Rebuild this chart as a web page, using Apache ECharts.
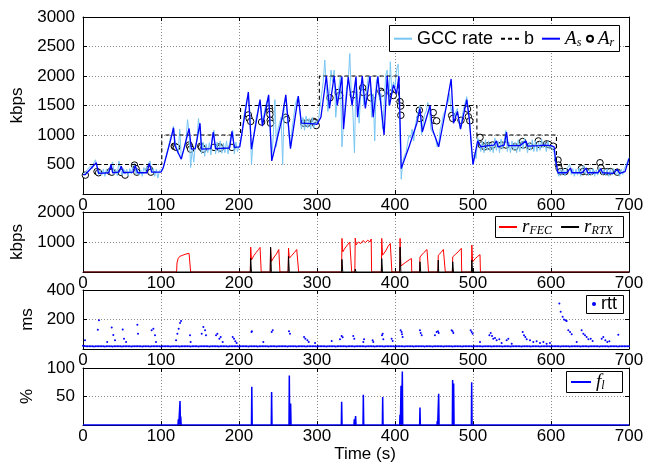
<!DOCTYPE html>
<html><head><meta charset="utf-8">
<script src="https://cdn.jsdelivr.net/npm/echarts@6/dist/echarts.min.js"></script>
<style>html,body{margin:0;padding:0;background:#fff}#c{width:652px;height:464px}</style>
</head><body><div id="c"></div>
<script>
// ---------- data ----------
const xTicks = [0,100,200,300,400,500,600,700];
const gccStep = 2; // seconds between GCC samples
const gccVals = [
330,300,380,420,450, 480,430,540,580,430, 330,400,320,420,300, 420,350,440,470,540,
330,420,310,560,440, 320,430,340,420,310, 430,340,480,520,330, 420,320,410,300,450,
380,470,520,560,360, 430,300,420,270,400,
380,420,500,620,720, 830,950,1000,1150,900, 780,680,1100,620,700, 780,900,1260,1050,450,
760,540,820,900,1280, 1050,680,880,640,850, 700,870,660,980,1080, 680,880,700,900,690,
860,700,900,680,870, 1000,1080,680,880,720,
800,900,1050,1300,1450, 1600,1650,1400,500,900, 1100,1300,1400,1550,1500, 1200,1350,1500,1580,1650,
1100,600,1000,1600,800, 1100,1200,1300,500,1550, 1600,1350,1000,800,1100, 1300,1500,1600,1650,1400,
1100,1300,1080,1320,1120, 1280,1100,1300,1120,1250,
1200,1250,1500,1700,1900, 2270,1800,1400,1700,2100, 1900,2100,1300,1600,1800, 2000,800,1200,1500,1800,
1900,2380,1700,1400,700, 1950,1600,1200,1700,1900, 1500,1600,1800,2000,1950, 1300,1700,900,1900,2000,
1600,1700,1100,1500,2000, 2100,1500,2240,1700,1900,
1800,2100,2200,1200,250, 550,650,700,850,1000, 950,1100,900,1150,1300, 1400,1500,1000,1200,1350,
1400,1550,1450,1100,1050, 1000,950,800,850,1100, 1200,1350,1400,1500,1550, 1700,1400,1500,1300,1400,
1450,1200,1100,1300,1450, 1550,1650,1400,1200,750,
500,700,600,950,880, 720,900,700,920,740, 900,720,860,700,950, 740,900,700,930,760,
900,1080,720,880,700, 900,740,880,700,920, 720,900,760,950,820, 700,880,740,920,720,
900,720,880,740,930, 780,880,720,900,760,
820,760,700,540,380, 300,420,320,430,310, 420,460,500,330,430, 300,420,320,440,300,
430,480,330,420,310, 420,320,430,300,410, 320,450,480,330,420, 310,430,300,420,320,
430,460,320,410,300, 420,330,430,480,560,
620
];
const bTimes = [0,101,202,303,405,505,607,700];
const bVals  = [500,1000,1500,2000,1500,1000,500,500];
const asPts = [
[0,330],[3,330],[17,530],[20,350],[33,360],[36,500],[38,360],[46,370],[49,470],[52,360],[64,370],[67,480],[70,360],[82,360],[85,520],[88,370],[100,370],
[103,450],[112,900],[116,1120],[118,820],[122,700],[126,590],[130,800],[136,1110],[139,760],[144,770],[150,1200],[152,760],[164,770],[167,1050],[170,770],[188,780],[191,1060],[194,790],[201,800],
[212,1730],[216,760],[227,1600],[230,1150],[238,1680],[242,560],[255,1270],[260,1680],[266,770],[276,1660],[280,1200],[297,1190],[300,1180],
[305,1300],[312,2000],[316,1450],[322,2000],[326,1500],[332,1990],[334,1100],[340,1980],[345,1500],[350,1990],[352,1300],[358,2000],[362,1450],[368,2000],[372,1300],[378,1990],[382,1500],[386,1000],[390,2000],[393,1500],[398,1850],[402,1700],[405,2000],
[408,430],[418,800],[428,1200],[432,1450],[435,1050],[445,1500],[448,1100],[456,800],[466,1500],[472,1950],[475,1200],[480,1400],[484,1100],[492,1600],[495,1300],[500,500],[506,900],
[510,800],[515,810],[520,820],[527,830],[530,900],[532,800],[540,830],[543,1050],[545,820],[560,820],[568,900],[570,810],[585,820],[590,830],[600,820],[604,800],[606,560],[609,360],
[620,360],[625,440],[627,360],[640,360],[645,440],[647,360],[660,360],[664,430],[666,360],[680,350],[685,420],[688,350],[695,380],[700,600]
];
const arPts = [
[3,320],[18,380],[20,360],[35,380],[37,370],[49,365],[54,320],[66,490],[68,430],[69,370],[85,420],[87,370],
[117,810],[118,800],[120,790],[136,830],[137,800],[138,760],[151,810],[152,790],[154,760],[168,790],[175,800],[176,780],[191,790],
[212,1340],[213,1280],[215,1230],[229,1220],[239,1450],[239.5,1400],[239.7,1350],[240,1250],[240.5,1200],[260,1300],[261,1260],[283,1200],[288,1200],[296,1230],[297,1210],[299,1160],
[316.6,1630],[327,1720],[329,1670],[346.5,1680],[358.5,1800],[359.5,1720],[368.8,1630],[382,1740],[383,1710],[394.8,1710],[397.8,1670],
[406.4,1565],[407.2,1490],[407.5,1335],[431.2,1420],[432,1280],[449,1380],[450,1250],[453.4,1240],[472.6,1330],[474,1280],[484.6,1250],[493,1440],[494,1310],[496,1240],
[509,960],[510.7,830],[515,800],[519.6,820],[522,810],[525,830],[536.7,830],[542.3,830],[553.8,800],[563.6,890],[564.5,830],[573,810],[583.8,900],[585,840],[594.4,850],[597,840],[603,810],
[609,575],[609.5,490],[610.5,430],[612.4,380],[618,380],[639,430],[641,380],[645.8,380],[650.9,380],[662.8,530],[664,440],[667,380],[672,380],[676,380],[685,370]
];
const fecPts = [
[0,0],[120,0],[120.5,300],[122,450],[124,520],[126,480],[128,560],[130,540],[132,600],[134,580],[136,620],[137.5,560],[138,0],
[214.5,0],[215,830],[216,400],[219,550],[222,650],[225,750],[227,820],[228,850],[228.5,0],
[240,0],[240.5,800],[241.5,350],[245,500],[248,600],[251,750],[252,790],[252.5,0],
[263,0],[263.5,800],[264.5,460],[268,560],[271,650],[274,750],[276,790],[276.5,0],
[331.5,0],[332,1120],[333,670],[336,800],[339,900],[342,1000],[344,1050],[344.5,0],
[348.5,0],[349,1130],[350,900],[353,1000],[356,950],[359,1050],[362,980],[365,1060],[368,1000],[369.5,1100],[370,0],
[382.5,0],[383,1120],[384,560],[388,700],[391,850],[394,950],[395.7,1000],[396,0],
[406,0],[406.5,1120],[407.5,200],[410,250],[414,330],[418,400],[421,450],[421.5,0],
[431.5,0],[432,500],[433,560],[437,650],[441,750],[442.7,790],[443,0],
[455,0],[455.5,560],[459,650],[462,750],[464,790],[464.5,0],
[473.5,0],[474,506],[478,600],[482,700],[485,790],[485.5,0],
[498,0],[498.5,900],[499.5,340],[503,450],[506,520],[509,580],[509.5,0],[700,0]
];
const rtxPts = [
[0,0],[214.5,0],[215,460],[216,0],[240,0],[240.5,830],[241.5,0],[263,0],[263.5,520],[264.5,0],
[331.5,0],[332,420],[333,0],[348.5,0],[349,100],[350,0],[382.5,0],[383,450],[384,0],[406,0],[406.5,830],[407.5,0],
[431.5,0],[432,340],[433,0],[455,0],[455.5,400],[456,0],[473.5,0],[474,340],[475,0],[498,0],[498.5,400],[499.5,0],[700,0]
];
const rttStep = 2; // seconds between baseline RTT samples
const rttBase = [
22,20,19,18,18,19,18,17,18,18, 18,19,18,18,17,18,19,18,18,17, 18,18,19,18,18,17,18,18,19,18,
18,17,18,18,19,18,18,18,17,18, 19,18,18,17,18,18,19,18,18,18, 17,18,18,19,18,18,17,18,18,19,
18,18,17,18,18,19,18,18,18,17, 18,19,18,18,17,18,18,19,18,18, 18,17,18,19,18,18,18,17,18,18,
19,18,18,17,18,18,19,18,18,18, 17,18,18,19,18,18,17,18,18,19, 18,18,17,18,18,19,18,18,18,17,
18,19,18,18,17,18,18,19,18,18, 18,17,18,19,18,18,18,17,18,18, 19,18,18,17,18,18,19,18,18,18,
17,18,18,19,18,18,17,18,18,19, 18,18,17,18,18,19,18,18,18,17, 18,19,18,18,17,18,18,19,18,18,
18,17,18,19,18,18,18,17,18,18, 19,18,18,17,18,18,19,18,18,18, 17,18,18,19,18,18,17,18,18,19,
18,18,17,18,18,19,18,18,18,17, 18,19,18,18,17,18,18,19,18,18, 18,17,18,19,18,18,18,17,18,18,
19,18,18,17,18,18,19,18,18,18, 17,18,18,19,18,18,17,18,18,19, 18,18,17,18,18,19,18,18,18,17,
18,19,18,18,17,18,18,19,18,18, 18,17,18,19,18,18,18,17,18,18, 19,18,18,17,18,18,19,18,18,18,
17,18,18,19,18,18,17,18,18,19, 18,18,17,18,18,19,18,18,18,17, 18,19,18,18,17,18,18,19,18,18,
18,17,18,19,18,18,18,17,18,18, 19,18,18,17,18,18,19,18,18,18,
18
];
const rttSpikes = [
[2.6,59],[19,130],[20.5,195],[31,47],[36.8,145],[38.9,95],[41,59],[50.9,132],[52.6,70],[55.2,47],[69.7,165],[70.5,104],[88,127],[90.2,138],[92.3,93],[93.6,47],
[119.3,59],[121,104],[122.7,138],[124.4,176],[125.7,190],[137.2,93],[138,47],[152.2,104],[154.3,150],[156.5,127],[157.7,93],[170.6,93],[172.3,104],[174.8,70],[176.5,82],[179.1,47],[191.9,82],[193.6,70],[195.3,52],[197,41],
[216,115],[216.5,121],[231.2,47],[241.9,115],[243.2,127],[264.1,121],[265.4,104],[283.4,82],[285.1,70],[287.7,59],[289.4,47],[297.5,41],
[318.8,54],[329.4,66],[331.6,88],[332.9,79],[346.5,88],[347.8,70],[359.4,47],[360.3,66],[371.3,59],[372.2,47],[383.3,93],[384.2,104],[385,66],[395.7,70],[397,54],
[407.2,127],[408.5,115],[409,100],[409.8,82],[432,127],[432.9,109],[434.2,93],[451.2,93],[453.4,115],[455.1,121],[456,109],[472.6,127],[473.9,120],[474.8,109],[497,127],[498.3,115],[499.5,104],
[509,47],[521,93],[522.7,109],[524.4,88],[526,70],[528.2,75],[530.3,59],[533.7,66],[536.7,41],[543.1,59],[545.3,70],[549.6,36],[563.7,115],[565.4,93],[567.1,82],[568.8,66],[573.1,59],[577.3,47],[581.6,52],[585.9,41],[590.2,47],[594.4,36],[598.7,41],
[610.7,309],[612.4,252],[614.9,218],[616.6,200],[618.4,195],[620,190],[622.2,127],[624.4,115],[626.5,100],[632.9,47],[639.3,127],[641.5,104],[643.6,93],[645.7,82],[647.9,66],[650.9,70],[653.4,54],[665,70],[667.1,82],[669.7,59],[672.2,47],[674.8,52],[686.3,97]
];
const flPts = [
[0,0],[121.8,0],[122.2,10],[122.8,0],[124,0],[124.4,42],[124.9,0],[125.3,15],[125.8,0],
[216,0],[216.4,67],[216.9,0],[241.4,0],[241.8,58],[242.3,0],
[264.1,0],[264.5,87],[265,0],[265.8,0],[266.2,38],[266.7,0],
[331.2,0],[331.6,41],[332.1,0],[347.4,0],[347.8,10],[348.3,0],[349.1,0],[349.5,16],[350,0],
[359,0],[359.4,53],[359.9,0],[383.8,0],[384.2,49],[384.7,0],
[406,0],[406.4,18],[406.9,0],[407.3,0],[407.7,69],[408.2,0],[409,0],[409.4,94],[409.9,0],
[431.6,0],[432,31],[432.5,0],[453.8,0],[454.2,7],[454.7,0],[455.6,0],[456,55],[456.5,0],
[473.5,0],[473.9,79],[474.4,0],[474.8,0],[475.2,73],[475.7,0],[497.9,0],[498.3,75],[498.8,0],[700,0]
];
const yNames = ['kbps','kbps','ms','%'];
const yMax = [3000,2000,400,100];
const yStep = [500,1000,200,50];

// ---------- chart ----------
const FONT = 'Liberation Sans';
const grids = [
  {left:83, width:546, top:17, height:177},
  {left:83, width:546, top:212, height:60},
  {left:83, width:546, top:290, height:59},
  {left:83, width:546, top:368, height:60}
];
const nameGaps = [56,56,39,39];
const dotted = {show:true, lineStyle:{color:'#8a8a8a', type:[1,2], width:1}};
const blackLine = {show:true, onZero:false, lineStyle:{color:'#000', width:1}};
const xAxis = [], yAxis = [];
grids.forEach((g,i)=>{
  xAxis.push({gridIndex:i, type:'value', min:xTicks[0], max:xTicks[xTicks.length-1], interval:100, position:'bottom',
    axisLine:blackLine, axisTick:{inside:true, length:4, lineStyle:{color:'#000'}},
    axisLabel:{fontSize:17, color:'#000', fontFamily:FONT, margin:3},
    splitLine:dotted,
    name: i===3 ? 'Time (s)' : '', nameLocation:'middle', nameGap:16,
    nameTextStyle:{fontSize:17, color:'#000', fontFamily:FONT, padding:[0,0,0,18]}});
  xAxis.push({gridIndex:i, type:'value', min:0, max:700, interval:100, position:'top',
    axisLine:blackLine, axisTick:{inside:true, length:4, lineStyle:{color:'#000'}},
    axisLabel:{show:false}, splitLine:{show:false}});
  yAxis.push({gridIndex:i, type:'value', min:0, max:yMax[i], interval:yStep[i], position:'left',
    axisLine:blackLine, axisTick:{inside:true, length:4, lineStyle:{color:'#000'}},
    axisLabel:{fontSize:17, color:'#000', fontFamily:FONT, margin:8, formatter:v=> v===0 ? '' : String(v)},
    splitLine:dotted,
    name:yNames[i], nameLocation:'middle', nameGap:nameGaps[i],
    nameTextStyle:{fontSize:17, color:'#000', fontFamily:FONT}});
  yAxis.push({gridIndex:i, type:'value', min:0, max:yMax[i], interval:yStep[i], position:'right',
    axisLine:blackLine, axisTick:{inside:true, length:4, lineStyle:{color:'#000'}},
    axisLabel:{show:false}, splitLine:{show:false}});
});

const rich = {
  it:{fontFamily:'Liberation Serif', fontStyle:'italic', fontSize:19, lineHeight:22, color:'#000'},
  sub:{fontFamily:'Liberation Serif', fontStyle:'italic', fontSize:12, lineHeight:12, verticalAlign:'top', padding:[9,0,0,0], color:'#000'}
};
const labelMap = {As:'{it|A}{sub|s}', Ar:'{it|A}{sub|r}', rFEC:'{it|r}{sub|FEC}', rRTX:'{it|r}{sub|RTX}', fl:'{it|f}{sub|l}'};
const fmt = n => labelMap[n] || n;
function mkLegend(data, left, top, iw, ih, gap, lh, lineOnly){
  const l = {data, left, top, orient:'horizontal', padding:0, itemWidth:iw, itemHeight:ih, itemGap:gap,
    selectedMode:false, z:6, formatter:fmt,
    textStyle:{fontSize:18, fontFamily:FONT, color:'#000', lineHeight:lh, rich}};
  if (lineOnly) l.itemStyle = {opacity:0};
  return l;
}
const boxes = [[389.5,25.5,230,26],[495.5,216.5,128,21],[586.5,295.5,37,18],[566.5,371.5,56,21]];

const option = {
  animation:false,
  backgroundColor:'#fff',
  grid: grids,
  xAxis, yAxis,
  graphic: {elements: boxes.map(b=>({type:'rect', z:5, shape:{x:b[0], y:b[1], width:b[2], height:b[3]},
    style:{fill:'#fff', stroke:'#000', lineWidth:1}}))},
  legend: [
    mkLegend(['GCC rate','b','As'], 393, 27.7, 18, 10, 7, 22, true),
    mkLegend([{name:'Ar', icon:'circle'}], 586, 27.7, 6, 6, 0, 22, false),
    mkLegend(['rFEC','rRTX'], 498, 216, 18, 10, 8, 22, true),
    mkLegend([{name:'rtt', icon:'circle'}], 592, 295, 4, 4, 0, 18, false),
    mkLegend(['fl'], 570, 371, 20, 10, 0, 22, true)
  ],
  series: [
    {name:'GCC rate', type:'line', xAxisIndex:0, yAxisIndex:0, symbol:'none',
      data: gccVals.map((v,i)=>[i*gccStep, v]),
      lineStyle:{color:'#78c6f4', width:1}, itemStyle:{color:'#78c6f4'}},
    {name:'b', type:'line', xAxisIndex:0, yAxisIndex:0, symbol:'none', step:'end',
      data: bTimes.map((t,i)=>[t, bVals[i]]),
      lineStyle:{color:'#000', width:1.1, type:[4,3]}, itemStyle:{color:'#000'}},
    {name:'As', type:'line', xAxisIndex:0, yAxisIndex:0, symbol:'none', data: asPts,
      lineStyle:{color:'#0000ff', width:1.3}, itemStyle:{color:'#0000ff'}},
    {name:'Ar', type:'scatter', xAxisIndex:0, yAxisIndex:0, symbol:'circle', symbolSize:6.5, data: arPts,
      itemStyle:{color:'#fff', borderColor:'#000', borderWidth:1, opacity:1}},
    {name:'rFEC', type:'line', xAxisIndex:2, yAxisIndex:2, symbol:'none', data: fecPts,
      lineStyle:{color:'#ff0000', width:1}, itemStyle:{color:'#ff0000'}},
    {name:'rRTX', type:'line', xAxisIndex:2, yAxisIndex:2, symbol:'none', data: rtxPts,
      lineStyle:{color:'#000', width:1}, itemStyle:{color:'#000'}},
    {name:'rtt', type:'scatter', xAxisIndex:4, yAxisIndex:4, symbol:'circle', symbolSize:2,
      data: rttBase.map((v,i)=>[i*rttStep, v]).concat(rttSpikes),
      itemStyle:{color:'#0000ff', opacity:1}},
    {name:'fl', type:'line', xAxisIndex:6, yAxisIndex:6, symbol:'none', data: flPts,
      lineStyle:{color:'#0000ff', width:1.5}, itemStyle:{color:'#0000ff'}}
  ]
};
const chart = echarts.init(document.getElementById('c'));
chart.setOption(option);
</script>
</body></html>
